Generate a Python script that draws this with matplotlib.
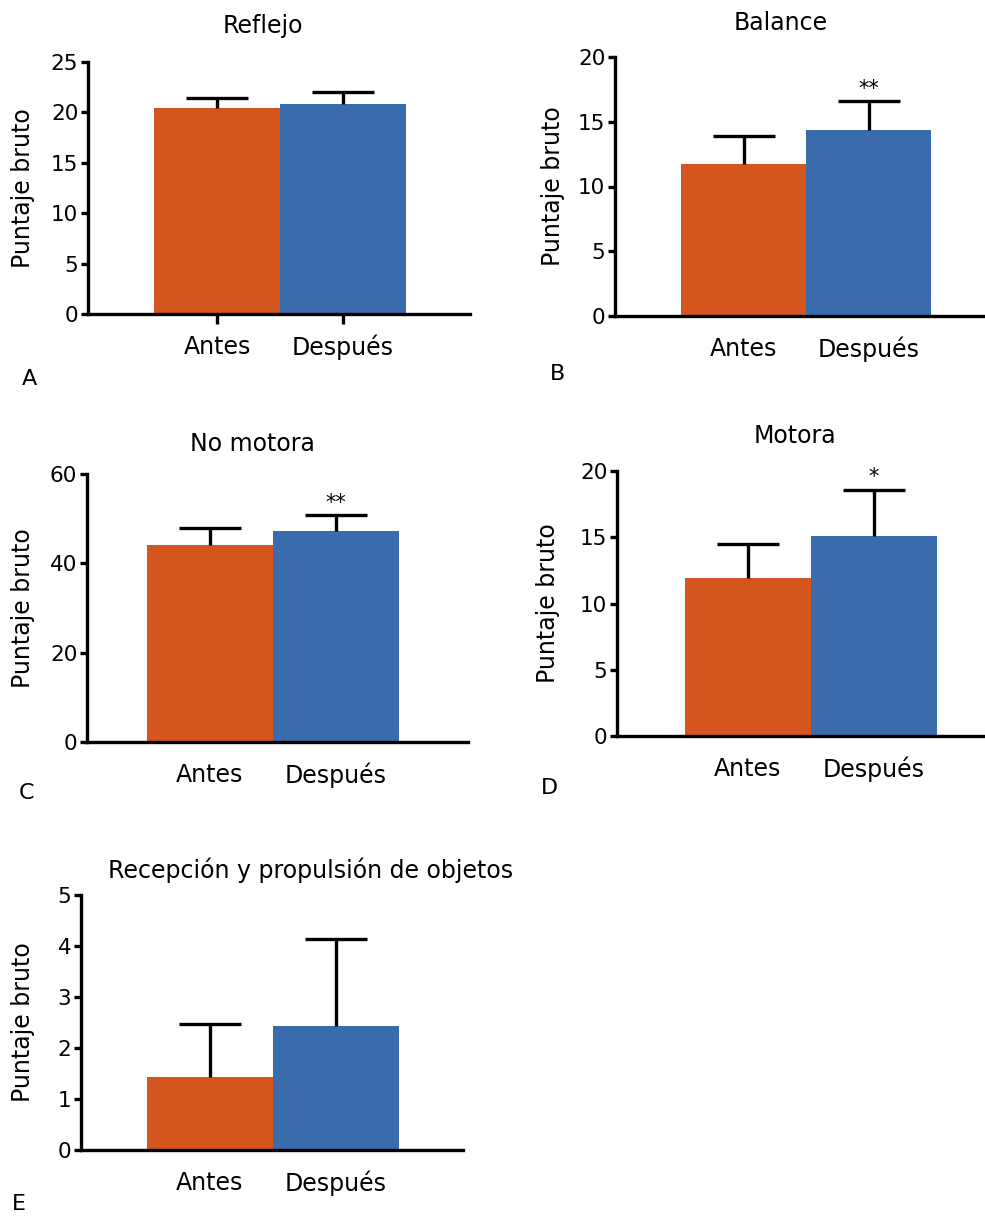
import matplotlib
matplotlib.use("Agg")
import matplotlib.pyplot as plt
import numpy as np

plt.rcParams['font.family'] = ['DejaVu Sans']

# ---- data ----
groups = ["Antes", "Después"]
titles = ["Reflejo", "Balance", "No motora", "Motora", "Recepción y propulsión de objetos"]
letters = ["A", "B", "C", "D", "E"]
means_reflejo = [20.4, 20.8]
err_reflejo = [1.0, 1.2]
means_balance = [11.7, 14.4]
err_balance = [2.2, 2.2]
means_nomotora = [44.0, 47.2]
err_nomotora = [3.8, 3.6]
means_motora = [11.9, 15.1]
err_motora = [2.6, 3.5]
means_recepcion = [1.44, 2.43]
err_recepcion = [1.04, 1.70]
signif = ["", "**", "**", "*", ""]
ymax = [25, 20, 60, 20, 5]
yticks_step = [5, 5, 20, 5, 1]

means_all = [means_reflejo, means_balance, means_nomotora, means_motora, means_recepcion]
errs_all = [err_reflejo, err_balance, err_nomotora, err_motora, err_recepcion]

colors = ["#D4551D", "#3A6BAD"]

W, H = 985, 1218
fig = plt.figure(figsize=(W / 100, H / 100), dpi=100)

# axes boxes in pixels: left, right, top(ymax), bottom(0)
boxes = [
    (88, 470, 62, 314),
    (615, 985, 57, 316),
    (87, 468, 474, 742),
    (617, 985, 471, 736),
    (81, 463, 895, 1150),
]
# bar positions (pixel) of the left bar's left edge and bar width
bar_px = [(154, 126), (681, 125), (147, 126), (685, 126), (147, 126)]
title_pos = [(263, 26), (781, 23), (252, 444), (795, 436), (311, 870)]
letter_pos = [(29, 379), (557, 374), (26, 793), (549, 788), (19, 1204)]
ylabel_right = [35, 565, 35, 560, 35]
show_xticks = [True, False, False, False, False]

for i in range(5):
    l, r, t, b = boxes[i]
    ax = fig.add_axes([l / W, 1 - b / H, (r - l) / W, (b - t) / H])
    x0, bw = bar_px[i]
    # xlim from pixels: left bar center at 0, bar width 1
    xl = -0.5 - (x0 - l) / bw
    xr = xl + (r - l) / bw
    ax.set_xlim(xl, xr)
    ax.set_ylim(0, ymax[i])
    x = np.arange(len(groups))
    m = means_all[i]
    e = errs_all[i]
    ax.bar(x, m, width=1.0, color=colors, zorder=2)
    eb = ax.errorbar(x, m, yerr=[np.zeros(len(e)), e], fmt='none', ecolor='black',
                     elinewidth=2.4, capsize=22.3, capthick=2.4, zorder=3)
    # hide lower caps (only upward error bars)
    eb[1][0].set_visible(False)
    if signif[i]:
        ax.annotate(signif[i], xy=(1, m[1] + e[1]), xytext=(0, 1.5),
                    textcoords='offset points', ha='center', va='bottom', fontsize=15)
    ax.set_xticks(x)
    ax.set_xticklabels(groups, fontsize=17)
    ax.set_yticks(np.arange(0, ymax[i] + 0.001, yticks_step[i]))
    ax.tick_params(axis='y', labelsize=15.5, width=2.4, length=5, pad=2)
    if show_xticks[i]:
        ax.tick_params(axis='x', width=2.4, length=7, pad=8)
    else:
        ax.tick_params(axis='x', length=0, pad=15)
    for s in ['top', 'right']:
        ax.spines[s].set_visible(False)
    for s in ['left', 'bottom']:
        ax.spines[s].set_linewidth(2.4)
    ax.set_ylabel("Puntaje bruto", fontsize=17)
    ax.yaxis.set_label_coords(-(l - ylabel_right[i]) / (r - l), 0.5)
    tx, ty = title_pos[i]
    fig.text(tx / W, 1 - ty / H, titles[i], ha='center', va='center', fontsize=17)
    lx, ly = letter_pos[i]
    fig.text(lx / W, 1 - ly / H, letters[i], ha='center', va='center', fontsize=16)

fig.savefig("out.png", dpi=100, facecolor='white')
